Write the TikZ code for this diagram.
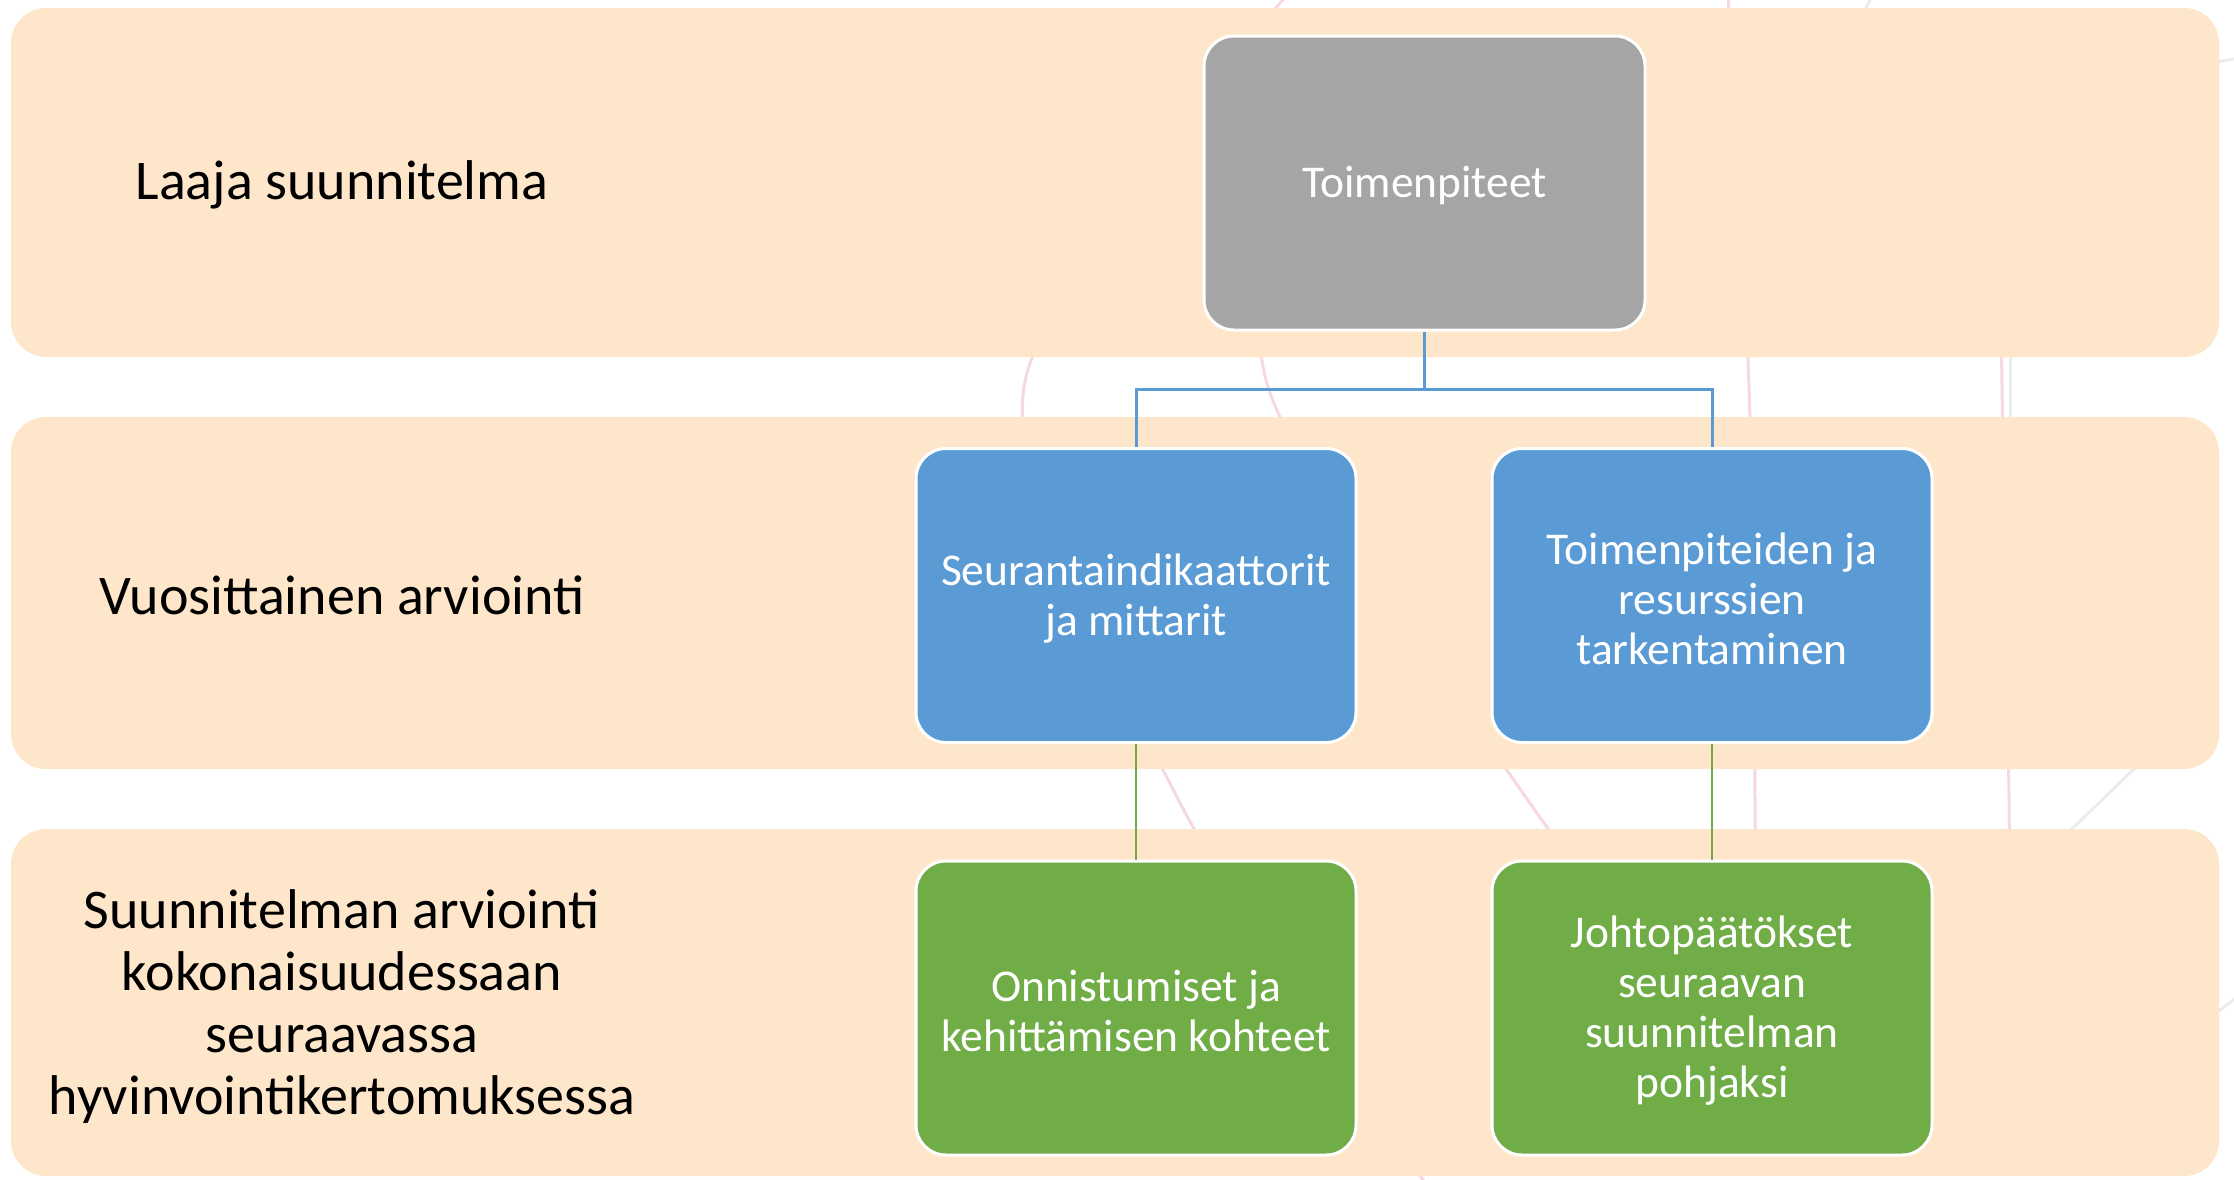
\documentclass[tikz,border=0pt]{standalone}
\usepackage{fontspec}
\setmainfont{Carlito}
\definecolor{bandc}{HTML}{FEE6CB}
\definecolor{pinkc}{HTML}{F6D9DC}
\definecolor{greyl}{HTML}{ECECEC}
\definecolor{grayb}{HTML}{A5A5A5}
\definecolor{blueb}{HTML}{5B9BD5}
\definecolor{greenb}{HTML}{70AD47}
\begin{document}
\begin{tikzpicture}[x=1pt,y=-1pt,
  band/.style={fill=bandc, draw=none, rounded corners=35pt, minimum width=2208pt, inner sep=0pt},
  lbl/.style={align=center, text=black, font=\fontsize{56}{62}\selectfont, inner sep=0pt},
  box/.style={draw=white, line width=3pt, rounded corners=30pt, minimum width=440pt, minimum height=294pt, inner sep=0pt},
  btext/.style={text=white, align=center, font=\fontsize{45.5}{50}\selectfont, inner sep=0pt, yshift=-3pt},
  deco/.style={pinkc, line width=3pt},
  decog/.style={greyl, line width=3pt},
  bluecon/.style={blueb, line width=3pt},
  greencon/.style={greenb, line width=2.5pt}
]
\useasboundingbox (0,0) rectangle (2234,1179);
% faint background decoration
\draw[deco] plot[smooth] coordinates {(1300,-20) (1024,387) (1178,799) (1430,1190)};
\draw[deco] plot[smooth] coordinates {(1300,100) (1268,387) (1527,799) (1760,1100)};
\draw[deco] plot[smooth] coordinates {(1727,-20) (1749,387) (1755,799) (1756,1100)};
\draw[deco] plot[smooth] coordinates {(1998,100) (2002,387) (2009,799) (2010,1100)};
\draw[decog] plot[smooth] coordinates {(1880,-20) (1866,8) (1840,60)};
\draw[decog] (2010,300) -- (2010,450);
\draw[decog] (2050,850) -- (2134,769) -- (2200,700);
\draw[decog] (2180,68) -- (2240,58);
\draw[decog] (2180,1040) -- (2240,995);
% bands
\node[band, minimum height=349pt] (band1) at (1115,182.5) {};
\node[band, minimum height=352pt] (band2) at (1115,593) {};
\node[band, minimum height=347pt] (band3) at (1115,1002.5) {};
% labels
\node[lbl] (l1) at (342,185) {Laaja suunnitelma};
\node[lbl] (l2) at (342,595) {Vuosittainen arviointi};
\node[lbl] (l3) at (342,1007) {Suunnitelman arviointi\\kokonaisuudessaan\\seuraavassa\\hyvinvointikertomuksessa};
% boxes
\node[box, fill=grayb, minimum width=441pt] (top) at (1424.5,183) {};
\node[box, fill=blueb] (b1) at (1136,595.5) {};
\node[box, fill=blueb] (b2) at (1712,595.5) {};
\node[box, fill=greenb] (g1) at (1136,1008) {};
\node[box, fill=greenb] (g2) at (1712,1008) {};
\node[btext] (topt) at (top.center) {Toimenpiteet};
\node[btext] (b1t) at (b1.center) {Seurantaindikaattorit\\ja mittarit};
\node[btext] (b2t) at (b2.center) {Toimenpiteiden ja\\resurssien\\tarkentaminen};
\node[btext] (g1t) at (g1.center) {Onnistumiset ja\\kehittämisen kohteet};
\node[btext] (g2t) at (g2.center) {Johtopäätökset\\seuraavan\\suunnitelman\\pohjaksi};
% connectors
\coordinate (split) at (1424.5,389);
\draw[bluecon] (top.south) -- (split);
\draw[bluecon] (split) -| (b1.north);
\draw[bluecon] (split) -| (b2.north);
\draw[greencon] (b1.south) -- (g1.north);
\draw[greencon] (b2.south) -- (g2.north);
\end{tikzpicture}
\end{document}
